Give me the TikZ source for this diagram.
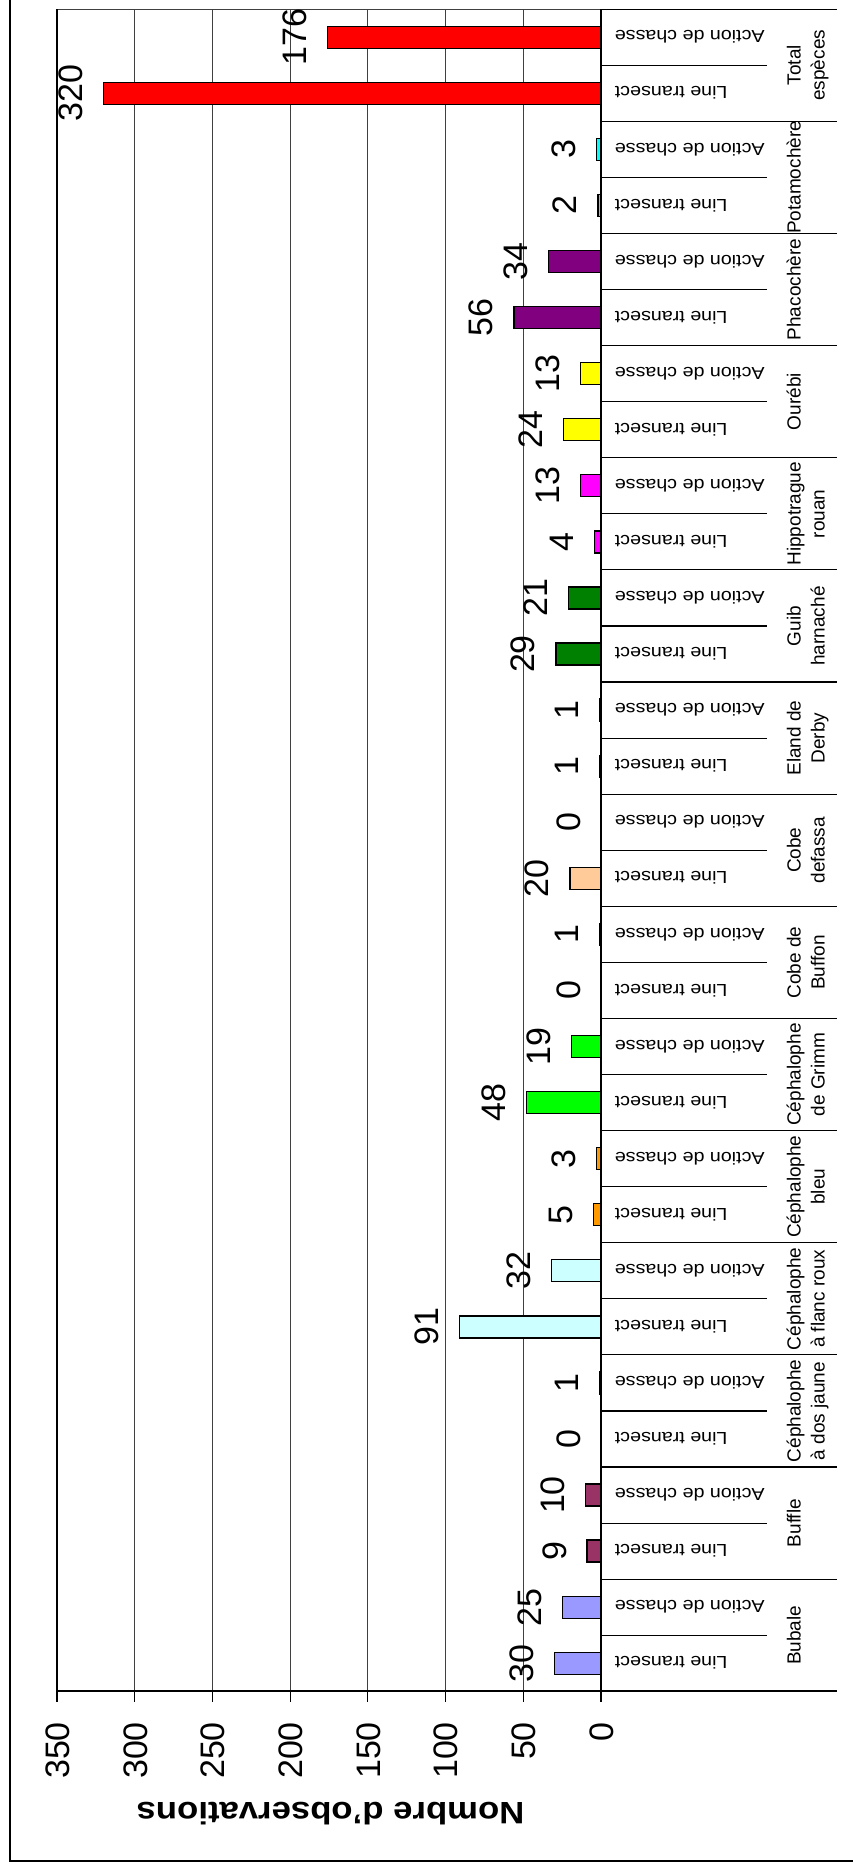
\documentclass[tikz,border=0pt]{standalone}
\usepackage{fontspec}
\setmainfont{Liberation Sans}
\usepackage{graphicx}
\definecolor{c0}{HTML}{9999FF}
\definecolor{c1}{HTML}{993366}
\definecolor{c2}{HTML}{FFFFCC}
\definecolor{c3}{HTML}{CCFFFF}
\definecolor{c4}{HTML}{FF9900}
\definecolor{c5}{HTML}{00FF00}
\definecolor{c6}{HTML}{CCCCFF}
\definecolor{c7}{HTML}{FFCC99}
\definecolor{c8}{HTML}{FF8080}
\definecolor{c9}{HTML}{008000}
\definecolor{c10}{HTML}{FF00FF}
\definecolor{c11}{HTML}{FFFF00}
\definecolor{c12}{HTML}{800080}
\definecolor{c13}{HTML}{00FFFF}
\definecolor{c14}{HTML}{FF0000}
\begin{document}
\begin{tikzpicture}[x=0.5pt,y=-0.5pt,
  barbox/.style={draw=black, line width=0.65pt},
  gridline/.style={draw=black!75, line width=0.5pt},
  axisline/.style={draw=black, line width=1pt},
  sepline/.style={draw=black, line width=0.55pt},
  vlabel/.style={rotate=90, anchor=base, inner sep=0pt, font=\fontsize{17}{20}\selectfont},
  tlabel/.style={rotate=90, anchor=base east, inner sep=0pt, font=\fontsize{17}{20}\selectfont},
  clabel/.style={rotate=180, anchor=base east, inner sep=0pt, font=\fontsize{8.7}{10}\selectfont},
  slabel/.style={rotate=90, anchor=base, inner sep=0pt, font=\fontsize{9.5}{12}\selectfont},
  titlelabel/.style={rotate=180, anchor=base, inner sep=0pt, font=\bfseries\fontsize{15.5}{18}\selectfont}]
\useasboundingbox (0,0) rectangle (852,1872);
% outer frame
\draw[line width=1.35pt] (10,-10) -- (10,1861) -- (870,1861);
% plot area border and gridlines
\draw[gridline] (57,9.3) -- (601,9.3);
\draw[draw=black, line width=0.6pt] (57,9.3) -- (57,1691.3);
\foreach \v in {50,100,...,300}{
  \pgfmathsetmacro\gx{601-1.55429*\v}
  \draw[gridline] (\gx,9.3) -- (\gx,1691.3);
}
% bars and value labels
\foreach \k/\lt/\ac in {0/30/25,1/9/10,2/0/1,3/91/32,4/5/3,5/48/19,6/0/1,7/20/0,8/1/1,9/29/21,10/4/13,11/24/13,12/56/34,13/2/3,14/320/176}{
  \pgfmathsetmacro\yA{1691.3-56.07*(2*\k+0.5)}
  \pgfmathsetmacro\yB{1691.3-56.07*(2*\k+1.5)}
  \pgfmathsetmacro\xA{601-1.55429*\lt}
  \pgfmathsetmacro\xB{601-1.55429*\ac}
  \draw[barbox, fill=c\k] (\xA,\yA-11) rectangle (601,\yA+11);
  \draw[barbox, fill=c\k] (\xB,\yB-11) rectangle (601,\yB+11);
  \node[vlabel] (va\k) at (\xA-21,\yA) {\lt};
  \node[vlabel] (vb\k) at (\xB-21,\yB) {\ac};
  \node[clabel] (ca\k) at (614.5,\yA-6.3) {\scalebox{1.13}[1]{Line transect}};
  \node[clabel] (cb\k) at (614.5,\yB-6.3) {\scalebox{1.13}[1]{Action de chasse}};
}
% category separators
\foreach \k in {0,...,15}{
  \pgfmathsetmacro\ys{1691.3-112.14*\k}
  \draw[sepline] (601,\ys) -- (836.7,\ys);
}
\foreach \k in {0,...,14}{
  \pgfmathsetmacro\ys{1691.3-56.07*(2*\k+1)}
  \draw[sepline] (601,\ys) -- (766.7,\ys);
}
% axes
\draw[axisline] (601,9.3) -- (601,1691.3);
\draw[axisline] (57,1691.3) -- (836.7,1691.3);
% ticks and tick labels
\foreach \v in {0,50,...,350}{
  \pgfmathsetmacro\gx{601-1.55429*\v}
  \draw[draw=black, line width=0.6pt] (\gx,1691.3) -- (\gx,1702.3);
  \node[tlabel] (t\v) at (\gx+12.3,1721.7) {\v};
}
% species labels
\foreach \k/\nm in {0/{Bubale},1/{Buffle},2/{Céphalophe\\à dos jaune},3/{Céphalophe\\à flanc roux},4/{Céphalophe\\bleu},5/{Céphalophe\\de Grimm},6/{Cobe de\\Buffon},7/{Cobe\\defassa},8/{Eland de\\Derby},9/{Guib\\harnaché},10/{Hippotrague\\rouan},11/{Ourébi},12/{Phacochère},13/{Potamochère},14/{Total\\espèces}}{
  \pgfmathsetmacro\yc{1691.3-56.07*(2*\k+1)}
  \node[slabel] (s\k) at (800.5,\yc) {\begin{tabular}[t]{@{}c@{}}\nm\end{tabular}};
}
% axis title
\node[titlelabel] (title) at (330.5,1802.7) {\scalebox{1.12}[1]{Nombre d'observations}};
\end{tikzpicture}
\end{document}
